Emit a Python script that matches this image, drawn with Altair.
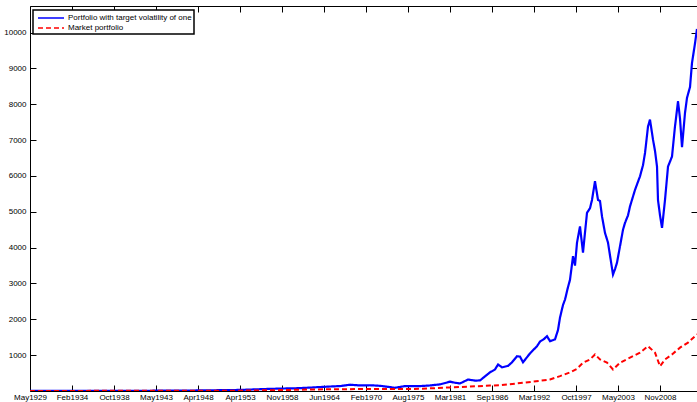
import altair as alt
import pandas as pd

# Trading-day index of each observation and the cumulative value of each strategy
blue_name = "Portfolio with target volatility of one"
red_name = "Market portfolio"

blue_t = [0, 1250, 2500, 3750, 5000, 6250, 6696, 7143, 7589, 8036, 8333, 8631, 8929,
          9226, 9524, 9821, 10119, 10417, 10863, 11161, 11607, 11905, 12202, 12500,
          12649, 12798, 13036, 13244, 13393, 13690, 13839, 13929, 14048, 14226, 14345,
          14494, 14583, 14673, 14881, 15089, 15179, 15298, 15387, 15476, 15625, 15714,
          15774, 15863, 15923, 16012, 16071, 16161, 16220, 16280, 16369, 16458, 16577,
          16667, 16726, 16815, 16905, 16964, 17024, 17113, 17202, 17292, 17351, 17411,
          17470, 17560, 17649, 17708, 17798, 17857, 18006, 18155, 18244, 18304, 18393,
          18452, 18542, 18601, 18661, 18690, 18750, 18810, 18899, 18988, 19107, 19196,
          19286, 19345, 19405, 19494, 19554, 19643, 19702, 19792, 19851]
blue_v = [1, 2, 4, 8, 15, 30, 45, 60, 70, 80, 95, 110, 125,
          137, 175, 155, 160, 145, 90, 137, 137, 155, 185, 260,
          230, 210, 320, 290, 295, 520, 600, 740, 660, 700, 800,
          970, 960, 800, 1050, 1250, 1380, 1450, 1530, 1390, 1440, 1700,
          2050, 2400, 2550, 2900, 3100, 3760, 3500, 4140, 4590, 3860, 4970,
          5100, 5330, 5850, 5330, 5300, 4870, 4410, 4140, 3600, 3250, 3400,
          3580, 4040, 4500, 4690, 4900, 5150, 5610, 5990, 6300, 6640, 7380,
          7570, 7010, 6700, 6260, 5330, 4900, 4550, 5330, 6260, 6540, 7380,
          8080, 7600, 6800, 7760, 8180, 8480, 9150, 9700, 10100]

red_t = [0, 6250, 7440, 8929, 10417, 11607, 12500, 13690, 13988, 14970, 15476, 15774,
         16071, 16280, 16458, 16667, 16815, 16964, 17173, 17351, 17560, 17857, 18155,
         18393, 18601, 18750, 18899, 19107, 19345, 19583, 19851]
red_v = [1, 10, 25, 50, 55, 60, 100, 150, 160, 260, 320, 415,
         520, 620, 790, 880, 1020, 880, 790, 600, 790, 930, 1070,
         1250, 1070, 690, 880, 1020, 1210, 1350, 1580]

# Axis ticks every 1250 observations, labelled with the calendar month
tick_labels = ["May1929", "Feb1934", "Oct1938", "May1943", "Apr1948", "Apr1953",
               "Nov1958", "Jun1964", "Feb1970", "Aug1975", "Mar1981", "Sep1986",
               "Mar1992", "Oct1997", "May2003", "Nov2008"]
tick_step = 1250
x_ticks = [i * tick_step for i in range(len(tick_labels))]
y_ticks = [1000, 2000, 3000, 4000, 5000, 6000, 7000, 8000, 9000, 10000]

df = pd.concat([
    pd.DataFrame({"t": blue_t, "value": blue_v, "series": blue_name}),
    pd.DataFrame({"t": red_t, "value": red_v, "series": red_name}),
])

label_expr = "[" + ",".join(f"'{s}'" for s in tick_labels) + f"][round(datum.value/{tick_step})]"

x_scale = alt.Scale(domain=[0, 19851], nice=False, zero=False)
y_scale = alt.Scale(domain=[0, 10740], nice=False)

color = alt.Color("series:N",
                  scale=alt.Scale(domain=[blue_name, red_name], range=["#0000ff", "#ff0000"]),
                  legend=alt.Legend(title=None))
dash = alt.StrokeDash("series:N",
                      scale=alt.Scale(domain=[blue_name, red_name], range=[[1, 0], [5, 3]]),
                      legend=alt.Legend(title=None))

tick_common = dict(offset=-6, tickSize=6, tickColor="black", tickWidth=1,
                   domain=False, grid=False, title=None)

blue = alt.Chart(df).transform_filter(alt.datum.series == blue_name).mark_line(
    strokeWidth=2.2, clip=True
).encode(
    x=alt.X("t:Q", scale=x_scale,
            axis=alt.Axis(orient="bottom", values=x_ticks, labelExpr=label_expr,
                          labelPadding=2, labelFontSize=8, labelColor="black",
                          labelFont="Liberation Sans", labelFlush=False, labelOverlap=False,
                          **tick_common)),
    y=alt.Y("value:Q", scale=y_scale,
            axis=alt.Axis(orient="left", values=y_ticks, labelPadding=4, labelFontSize=8,
                          labelColor="black", labelFont="Liberation Sans", format="d",
                          **tick_common)),
    color=color,
    strokeDash=dash,
)

red = alt.Chart(df).transform_filter(alt.datum.series == red_name).mark_line(
    strokeWidth=2, clip=True
).encode(
    x=alt.X("t:Q", scale=x_scale,
            axis=alt.Axis(orient="top", values=x_ticks, labels=False, **tick_common)),
    y=alt.Y("value:Q", scale=y_scale,
            axis=alt.Axis(orient="right", values=y_ticks, labels=False, **tick_common)),
    color=color,
    strokeDash=dash,
)

# Legend keys: a long horizontal stroke on a compact row
key_path = "M-0.6,0H4.6"

chart = alt.layer(blue, red).resolve_axis(x="independent", y="independent").properties(
    width=667, height=385,
    autosize=alt.AutoSizeParams(type="none"),
    padding={"left": 30, "top": 6, "right": 0, "bottom": 11},
    background="white",
).configure_view(
    stroke="black", strokeWidth=1
).configure_legend(
    orient="none", legendX=3, legendY=4,
    strokeColor="black", strokeWidth=1.5, fillColor="white",
    padding=2, labelFontSize=8, labelFont="Liberation Sans", labelColor="black",
    symbolType=key_path, symbolSize=100, symbolStrokeWidth=1.5,
    rowPadding=0, labelOffset=21, labelLimit=0,
)

chart.save("out.html", embed_options={"renderer": "svg", "actions": False})
